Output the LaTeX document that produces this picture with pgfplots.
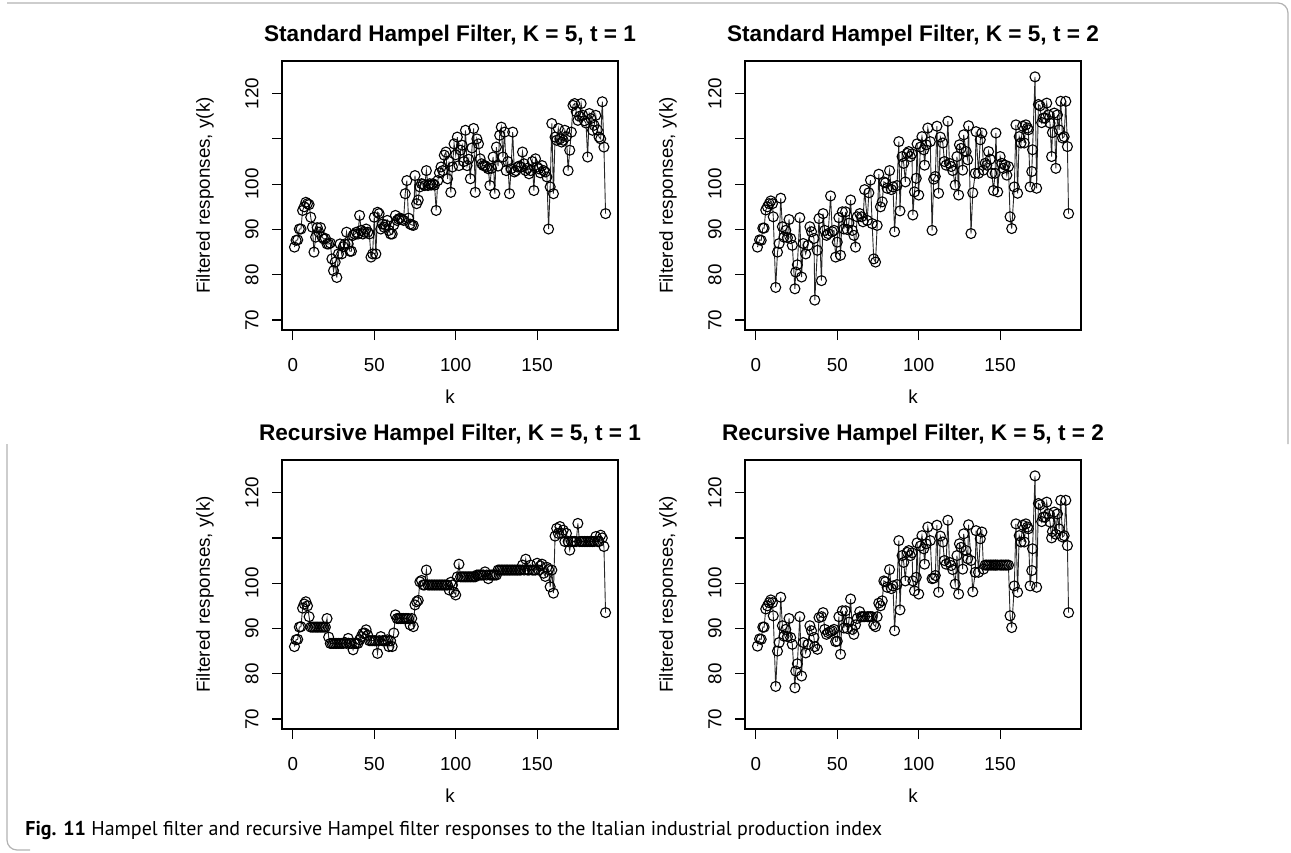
\documentclass[border=0pt]{standalone}
\usepackage{fontspec}
\setmainfont{Liberation Sans}
\newfontfamily\capfont{PT Sans}
\usepackage{pgfplots}
\pgfplotsset{compat=1.18}

% one reference pixel = 0.5pt
\newcommand{\lblfont}{\fontsize{9.4}{11}\selectfont}
% R-style y tick labels, set parallel to the axis
\newcommand{\rytick}[1]{\node[rotate=90, anchor=center, inner sep=0pt, font=\lblfont]
  at ([xshift=-15pt]axis cs:-6.64,#1) {#1};}
\newcommand{\ryticks}{\rytick{70}\rytick{80}\rytick{90}\rytick{100}\rytick{120}}

\pgfplotsset{
  rpanel/.style={
    scale only axis, width=168pt, height=134.5pt,
    xmin=-6.64, xmax=199.64, ymin=67.8, ymax=127.2,
    clip mode=individual,
    xtick={0,50,100,150}, xticklabels={0,50,100,150},
    ytick={70,80,90,100,110,120}, yticklabels={,,,,,},
    tick pos=left, tick align=outside, major tick length=5pt,
    every tick/.style={black, line width=0.6pt},
    axis line style={black, line width=0.65pt},
    tick label style={font=\lblfont},
    xticklabel style={anchor=center, yshift=-12.5pt},
    title style={font=\bfseries\fontsize{11.3}{13.5}\selectfont,
      at={(axis description cs:0.5,1.104)}, anchor=center, yshift=-7.5pt},
    xlabel={k}, ylabel={Filtered responses, y(k)},
    label style={font=\lblfont},
    xlabel style={at={(axis description cs:0.5,-0.249)}, anchor=center},
    ylabel style={at={(axis description cs:-0.229,0.5)}, anchor=center, rotate=0},
  },
  rline/.style={black!85, line width=0.45pt, mark=o, mark size=2.5pt,
    mark options={line width=0.55pt, black}},
}

\begin{document}
\begin{tikzpicture}
\useasboundingbox (0,0) rectangle (645.5pt,-426pt);

% frame
\draw[gray!60, line width=0.6pt, rounded corners=5pt]
  (3.5pt,-1.5pt) -- (644pt,-1.5pt) -- (644pt,-222pt);
\draw[gray!60, line width=0.6pt, rounded corners=5pt]
  (3.5pt,-222pt) -- (3.5pt,-425pt) -- (15pt,-425pt);

% standard, t = 1
\begin{axis}[rpanel, at={(141pt,-30.5pt)}, anchor=north west,
  title={Standard Hampel Filter, K = 5, t = 1}]
\addplot[rline] coordinates {
(1,86.1)(2,87.6)(3,87.7)(4,90.1)(5,90.1)(6,94.2)(7,95.0)(8,96.0)(9,95.7)(10,95.5)
(11,92.7)(12,90.5)(13,85.0)(14,88.3)(15,90.4)(16,89.4)(17,90.4)(18,88.3)(19,87.9)(20,88.0)
(21,86.8)(22,86.8)(23,87.0)(24,83.5)(25,80.9)(26,82.8)(27,79.4)(28,84.6)(29,86.8)(30,84.6)
(31,86.2)(32,86.8)(33,89.4)(34,86.8)(35,85.2)(36,85.2)(37,88.7)(38,89.0)(39,89.4)(40,89.0)
(41,93.1)(42,89.8)(43,89.0)(44,89.4)(45,90.1)(46,89.4)(47,89.0)(48,83.9)(49,84.6)(50,92.7)
(51,84.6)(52,93.8)(53,93.5)(54,90.1)(55,91.2)(56,90.5)(57,91.0)(58,92.0)(59,89.8)(60,89.0)
(61,89.0)(62,91.0)(63,93.1)(64,92.0)(65,92.3)(66,92.5)(67,92.2)(68,92.0)(69,97.9)(70,100.8)
(71,92.5)(72,91.2)(73,91.0)(74,90.9)(75,101.9)(76,95.7)(77,96.5)(78,99.4)(79,100.1)(80,100.0)
(81,99.7)(82,103.0)(83,99.7)(84,100.1)(85,99.8)(86,100.1)(87,99.8)(88,94.2)(89,100.8)(90,102.5)
(91,103.8)(92,103.0)(93,106.4)(94,107.1)(95,101.2)(96,105.0)(97,98.2)(98,103.8)(99,108.9)(100,106.5)
(101,110.4)(102,104.1)(103,107.5)(104,108.6)(105,105.0)(106,111.9)(107,104.1)(108,105.5)(109,101.2)(110,108.0)
(111,112.3)(112,98.2)(113,110.0)(114,108.9)(115,105.6)(116,104.5)(117,104.1)(118,104.1)(119,103.8)(120,103.4)
(121,99.7)(122,103.5)(123,106.0)(124,97.9)(125,108.2)(126,104.0)(127,110.8)(128,112.6)(129,106.0)(130,111.5)
(131,103.0)(132,105.0)(133,97.9)(134,103.4)(135,111.5)(136,102.7)(137,103.0)(138,103.8)(139,104.0)(140,103.8)
(141,107.1)(142,104.5)(143,103.0)(144,103.5)(145,102.3)(146,103.0)(147,105.0)(148,98.6)(149,105.6)(150,103.8)
(151,103.4)(152,102.5)(153,104.1)(154,103.0)(155,102.7)(156,101.6)(157,90.1)(158,99.4)(159,113.4)(160,97.9)
(161,110.4)(162,109.7)(163,112.3)(164,110.0)(165,109.3)(166,109.7)(167,111.9)(168,110.5)(169,103.0)(170,107.5)
(171,111.5)(172,117.4)(173,117.8)(174,116.0)(175,114.1)(176,115.0)(177,117.8)(178,115.2)(179,114.0)(180,113.5)
(181,106.0)(182,115.6)(183,114.5)(184,111.9)(185,113.0)(186,115.2)(187,112.0)(188,110.4)(189,110.0)(190,118.2)
(191,108.2)(192,93.5)
};
\ryticks
\end{axis}

% standard, t = 2
\begin{axis}[rpanel, at={(372.5pt,-30.5pt)}, anchor=north west,
  title={Standard Hampel Filter, K = 5, t = 2}]
\addplot[rline] coordinates {
(1.0,86.1)(2.3,87.7)(3.3,87.6)(4.3,90.3)(5.1,90.3)(6.1,94.3)(7.1,95.0)(8.2,95.7)(9.2,96.3)(10.2,95.7)
(10.7,92.8)(12.2,77.2)(13.3,85.0)(14.3,86.9)(15.3,96.9)(16.3,90.6)(17.3,88.3)(18.4,89.8)(19.4,88.2)(20.4,92.2)
(21.4,88.0)(22.4,86.5)(24.0,76.9)(24.5,80.6)(25.5,82.2)(27.0,92.6)(28.1,79.5)(29.1,86.9)(30.6,84.6)(32.1,86.5)
(33.2,90.6)(34.2,89.5)(35.7,88.0)(36.2,74.4)(37.8,85.4)(38.8,92.4)(40.3,78.7)(41.3,93.5)(42.3,89.8)(43.4,88.7)
(44.4,89.1)(45.9,97.4)(46.9,89.5)(48.0,89.8)(49.0,83.9)(50.0,87.2)(51.0,92.6)(52.0,84.3)(53.1,93.9)(54.1,90.1)
(55.1,93.9)(56.1,90.0)(57.1,91.4)(58.2,96.5)(59.2,89.8)(60.2,88.7)(61.2,86.1)(62.2,92.8)(63.8,93.5)(64.8,92.8)
(65.8,91.7)(66.8,98.8)(68.4,92.0)(69.4,98.1)(70.4,100.9)(71.4,91.3)(72.4,83.5)(73.5,82.8)(74.5,90.9)(75.5,102.2)
(76.5,95.0)(77.6,96.1)(78.6,100.5)(79.6,100.3)(80.6,99.1)(82.1,103.0)(83.2,98.8)(84.2,99.4)(85.2,89.5)(86.7,99.7)
(87.8,109.4)(88.5,94.1)(89.8,106.1)(90.8,104.6)(91.8,100.5)(92.9,106.8)(93.9,107.2)(94.9,106.1)(95.9,106.7)(96.4,93.2)
(97.4,98.3)(98.5,101.3)(99.0,108.9)(100.0,97.6)(101.0,108.2)(102.0,110.5)(103.1,107.6)(103.6,104.2)(104.6,108.7)(105.6,112.4)
(107.1,109.4)(108.2,89.8)(109.2,101.1)(110.2,101.7)(111.2,112.8)(112.2,98.0)(113.3,110.4)(114.8,109.1)(115.8,105.0)(116.8,104.2)
(117.9,113.9)(118.9,104.6)(119.9,103.9)(120.9,103.0)(122.4,99.8)(123.5,106.1)(124.5,97.6)(125.0,108.7)(126.0,107.9)(127.0,103.1)
(127.6,110.9)(129.1,107.2)(130.1,105.4)(130.6,112.9)(132.1,89.1)(133.2,98.1)(134.7,102.4)(135.2,111.6)(136.7,102.4)(137.8,109.8)
(138.8,111.3)(139.8,103.1)(140.8,104.6)(141.8,104.2)(142.9,107.2)(143.9,105.5)(144.9,102.4)(145.9,98.6)(146.9,102.4)(147.4,111.3)
(148.5,98.3)(150.0,106.1)(151.0,104.6)(152.0,103.5)(153.1,104.2)(154.1,102.0)(155.1,103.9)(156.1,92.8)(157.1,90.2)(158.7,99.4)
(159.7,113.1)(160.7,98.0)(161.7,110.5)(162.8,109.1)(163.8,112.8)(164.8,109.1)(165.8,113.1)(166.8,112.4)(167.3,112.0)(168.4,99.4)
(169.4,102.8)(169.9,107.6)(171.4,123.7)(172.4,99.1)(173.5,117.6)(174.5,117.3)(175.5,113.6)(176.5,114.6)(177.6,114.6)(178.6,117.9)
(179.6,115.3)(180.6,113.5)(181.6,106.1)(182.1,111.4)(183.2,115.7)(184.2,103.5)(185.2,115.3)(186.2,112.0)(187.2,118.3)(188.3,110.2)
(189.3,110.5)(190.3,118.3)(191.3,108.3)(192.0,93.5)
};
\ryticks
\end{axis}

% recursive, t = 1
\begin{axis}[rpanel, at={(141pt,-230pt)}, anchor=north west,
  title={Recursive Hampel Filter, K = 5, t = 1}]
\addplot[rline] coordinates {
(1,86.0)(2,87.5)(3,87.6)(4,90.3)(5,90.4)(6,94.5)(7,95.4)(8,95.9)(9,95.0)(10,92.6)
(11,90.3)(12,90.3)(13,90.3)(14,90.3)(15,90.3)(16,90.3)(17,90.3)(18,90.3)(19,90.3)(20,90.3)
(21,92.2)(22,88.1)(23,86.7)(24,86.7)(25,86.7)(26,86.7)(27,86.7)(28,86.7)(29,86.7)(30,86.7)
(31,86.7)(32,86.9)(33,86.7)(34,87.8)(35,86.7)(36,86.7)(37,85.3)(38,86.7)(39,86.7)(40,86.7)
(41,87.5)(42,88.2)(43,88.9)(44,89.0)(45,89.7)(46,88.5)(47,87.3)(48,87.3)(49,87.3)(50,87.3)
(51,87.3)(52,84.5)(53,87.3)(54,88.2)(55,87.3)(56,87.3)(57,87.3)(58,87.5)(59,86.0)(60,87.3)
(61,86.0)(62,89.0)(63,93.0)(64,92.2)(65,92.2)(66,92.2)(67,92.2)(68,92.2)(69,92.2)(70,92.2)
(71,92.2)(72,90.8)(73,92.2)(74,90.4)(75,95.2)(76,95.9)(77,96.2)(78,100.3)(79,100.6)(80,99.6)
(81,99.6)(82,102.9)(83,99.6)(84,99.6)(85,99.6)(86,99.6)(87,99.6)(88,99.6)(89,99.6)(90,99.6)
(91,99.6)(92,99.6)(93,99.6)(94,99.6)(95,99.6)(96,98.5)(97,100.2)(98,99.6)(99,98.0)(100,97.4)
(101,101.4)(102,104.2)(103,101.4)(104,101.4)(105,101.4)(106,101.4)(107,101.4)(108,101.4)(109,101.4)(110,101.4)
(111,101.4)(112,101.4)(113,101.8)(114,101.8)(115,101.8)(116,101.8)(117,101.8)(118,102.5)(119,101.8)(120,101.0)
(121,101.8)(122,101.8)(123,101.8)(124,101.8)(125,101.8)(126,102.9)(127,102.9)(128,102.9)(129,102.9)(130,102.9)
(131,102.9)(132,102.9)(133,102.9)(134,102.9)(135,102.9)(136,102.9)(137,102.9)(138,102.9)(139,102.9)(140,102.9)
(141,104.0)(142,102.9)(143,105.3)(144,102.9)(145,102.9)(146,104.0)(147,102.9)(148,102.9)(149,102.9)(150,104.4)
(151,102.9)(152,103.8)(153,104.2)(154,102.2)(155,101.5)(156,103.5)(157,103.0)(158,99.2)(159,102.9)(160,97.8)
(161,110.4)(162,112.1)(163,111.0)(164,112.5)(165,111.0)(166,111.7)(167,109.2)(168,111.0)(169,109.2)(170,107.3)
(171,109.2)(172,109.2)(173,109.2)(174,109.2)(175,113.2)(176,109.2)(177,109.2)(178,109.2)(179,109.2)(180,109.2)
(181,109.2)(182,109.2)(183,109.2)(184,109.2)(185,109.2)(186,110.3)(187,109.2)(188,109.2)(189,110.6)(190,110.0)
(191,108.1)(192,93.5)
};
\ryticks
\end{axis}

% recursive, t = 2
\begin{axis}[rpanel, at={(372.5pt,-230pt)}, anchor=north west,
  title={Recursive Hampel Filter, K = 5, t = 2}]
\addplot[rline] coordinates {
(1.0,86.1)(2.3,87.7)(3.3,87.6)(4.3,90.3)(5.1,90.3)(6.1,94.3)(7.1,95.0)(8.2,95.7)(9.2,96.3)(10.2,95.7)
(10.7,92.8)(12.2,77.2)(13.3,85.0)(14.3,86.9)(15.3,96.9)(16.3,90.6)(17.3,88.3)(18.4,89.8)(19.4,88.2)(20.4,92.2)
(21.4,88.0)(22.4,86.5)(24.0,76.9)(24.5,80.6)(25.5,82.2)(27.0,92.6)(28.1,79.5)(29.1,86.9)(30.6,84.6)(32.1,86.5)
(33.2,90.6)(34.2,89.5)(35.7,88.0)(36.2,86.0)(37.8,85.4)(38.8,92.4)(40.3,92.6)(41.3,93.5)(42.3,89.8)(43.4,88.7)
(44.4,89.1)(45.9,89.3)(46.9,89.5)(48.0,89.8)(49.0,87.1)(50.0,87.2)(51.0,92.6)(52.0,84.3)(53.1,93.9)(54.1,90.1)
(55.1,93.9)(56.1,90.0)(57.1,91.4)(58.2,96.5)(59.2,89.8)(60.2,88.7)(61.2,90.8)(62.2,92.2)(63.8,93.7)(64.8,92.6)
(65.8,92.6)(66.8,92.6)(68.4,92.6)(69.4,92.6)(70.4,92.6)(71.4,92.6)(72.4,90.8)(73.5,90.4)(74.5,92.6)(75.5,95.6)
(76.5,95.0)(77.6,96.1)(78.6,100.5)(79.6,100.3)(80.6,99.1)(82.1,103.0)(83.2,98.8)(84.2,99.4)(85.2,89.5)(86.7,99.7)
(87.8,109.4)(88.5,94.1)(89.8,106.1)(90.8,104.6)(91.8,100.5)(92.9,106.8)(93.9,107.2)(94.9,106.1)(95.9,106.7)(96.4,100.5)
(97.4,98.3)(98.5,101.3)(99.0,108.9)(100.0,97.6)(101.0,108.2)(102.0,110.5)(103.1,107.6)(103.6,104.2)(104.6,108.7)(105.6,112.4)
(107.1,109.4)(108.2,101.0)(109.2,101.1)(110.2,101.7)(111.2,112.8)(112.2,98.0)(113.3,110.4)(114.8,109.1)(115.8,105.0)(116.8,104.2)
(117.9,113.9)(118.9,104.6)(119.9,103.9)(120.9,103.0)(122.4,99.8)(123.5,106.1)(124.5,97.6)(125.0,108.7)(126.0,107.9)(127.0,103.1)
(127.6,110.9)(129.1,107.2)(130.1,105.4)(130.6,112.9)(132.1,105.0)(133.2,98.1)(134.7,102.4)(135.2,111.6)(136.7,102.4)(137.8,109.8)
(138.8,111.3)(139.8,103.1)(140.8,104.0)(141.8,104.0)(142.9,104.0)(143.9,104.0)(144.9,104.0)(145.9,104.0)(146.9,104.0)(147.4,104.0)
(148.5,104.0)(150.0,104.0)(151.0,104.0)(152.0,104.0)(153.1,104.0)(154.1,104.0)(155.1,104.0)(156.1,92.8)(157.1,90.2)(158.7,99.4)
(159.7,113.1)(160.7,98.0)(161.7,110.5)(162.8,109.1)(163.8,112.8)(164.8,109.1)(165.8,113.1)(166.8,112.4)(167.3,112.0)(168.4,99.4)
(169.4,102.8)(169.9,107.6)(171.4,123.7)(172.4,99.1)(173.5,117.6)(174.5,117.3)(175.5,113.6)(176.5,114.6)(177.6,114.6)(178.6,117.9)
(179.6,115.3)(180.6,113.5)(181.6,110.0)(182.1,111.4)(183.2,115.7)(184.2,110.8)(185.2,115.3)(186.2,112.0)(187.2,118.3)(188.3,110.2)
(189.3,110.5)(190.3,118.3)(191.3,108.3)(192.0,93.5)
};
\ryticks
\end{axis}

% caption
\node[anchor=west, inner sep=0pt, font=\capfont\fontsize{10}{12}\selectfont]
  at (12.5pt,-415pt)
  {\textbf{Fig. 11} Hampel filter and recursive Hampel filter responses to the Italian industrial production index};
\end{tikzpicture}
\end{document}
